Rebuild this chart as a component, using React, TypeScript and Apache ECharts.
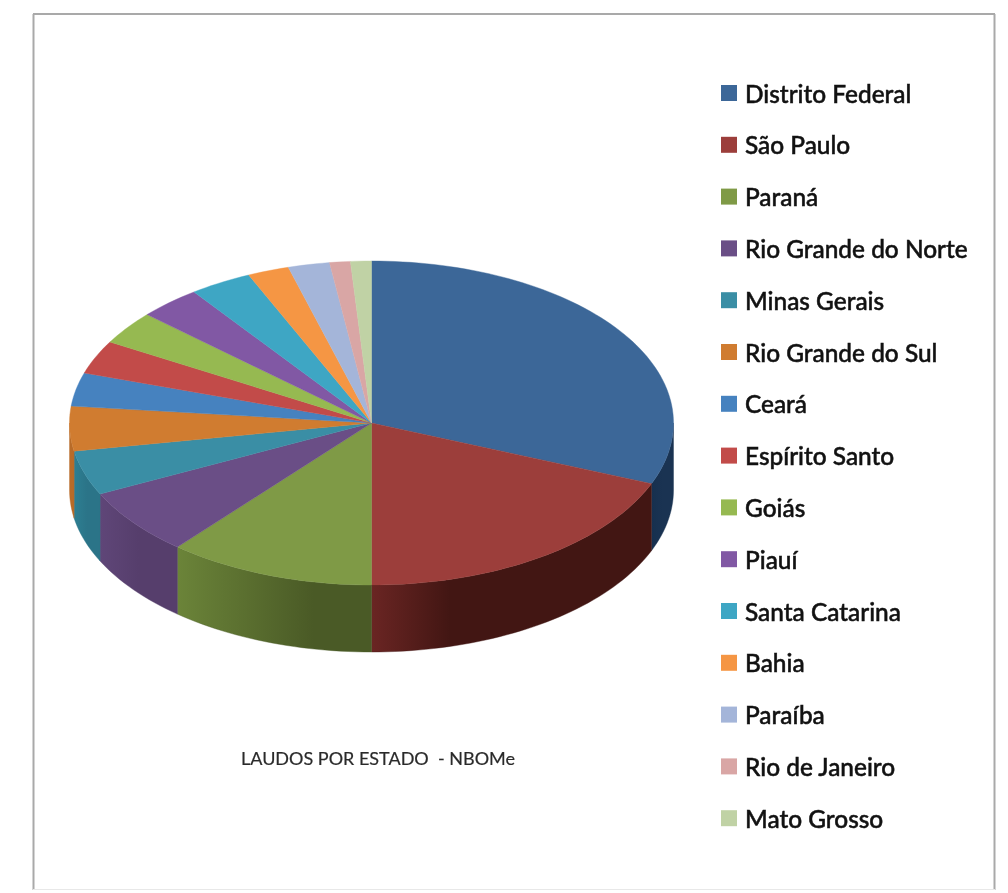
import React, { useEffect, useRef } from "react";
import * as echarts from "echarts";

const states = ["Distrito Federal", "São Paulo", "Paraná", "Rio Grande do Norte", "Minas Gerais", "Rio Grande do Sul", "Ceará", "Espírito Santo", "Goiás", "Piauí", "Santa Catarina", "Bahia", "Paraíba", "Rio de Janeiro", "Mato Grosso"];
const counts = [28, 17, 10, 6, 4, 4, 3, 3, 3, 3, 3, 2, 2, 1, 1];
const topColors = ["#3c6798", "#9c3e3b", "#7f9a46", "#6a4e86", "#3a8ea5", "#d07c30", "#4682bf", "#c24b49", "#96b951", "#8158a4", "#3ea6c4", "#f59644", "#a4b5d9", "#d9a6a5", "#c0d2a5"];
const wallLeft = ["#16304f", "#6a2523", "#6b8439", "#5f4678", "#2d7f92", "#b86b28"];
const wallRight = ["#1a3352", "#421613", "#4a5a26", "#563e6c", "#2b7488", "#b86b28"];
const wallTurn = [0.5, 0.28, 0.7, 0.5, 0.5, 0.5];

const CX = 371.5, CY = 423, RX = 302, RY = 162, DEPTH = 67;
const total = counts.reduce((a, b) => a + b, 0);

function rim(theta: number, dy = 0): number[] {
  return [CX + RX * Math.sin(theta), CY - RY * Math.cos(theta) + dy];
}

function arcPoints(a: number, b: number, dy = 0): number[][] {
  const steps = Math.max(2, Math.ceil(((b - a) / Math.PI) * 120));
  const out: number[][] = [];
  for (let i = 0; i <= steps; i++) out.push(rim(a + ((b - a) * i) / steps, dy));
  return out;
}

function sliceSeries(index: number) {
  const before = counts.slice(0, index).reduce((a, b) => a + b, 0);
  const start = (before / total) * 2 * Math.PI;
  const end = ((before + counts[index]) / total) * 2 * Math.PI;
  const color = topColors[index];
  return {
    type: "custom" as const,
    name: states[index],
    coordinateSystem: "none",
    itemStyle: { color },
    data: [[counts[index]]],
    silent: true,
    renderItem: () => {
      const children: any[] = [];
      const wa = Math.max(start, Math.PI / 2);
      const wb = Math.min(end, (3 * Math.PI) / 2);
      if (wb > wa) {
        const lower = arcPoints(wa, wb, DEPTH).reverse();
        const leftC = wallLeft[index] || color;
        const rightC = wallRight[index] || color;
        const fill = new echarts.graphic.LinearGradient(0, 0, 1, 0, [
          { offset: 0, color: leftC },
          { offset: wallTurn[index], color: rightC },
          { offset: 1, color: rightC },
        ]);
        children.push({
          type: "polygon",
          shape: { points: [...arcPoints(wa, wb), ...lower] },
          style: { fill, stroke: rightC, lineWidth: 0.4 },
        });
      }
      children.push({
        type: "polygon",
        shape: { points: [[CX, CY], ...arcPoints(start, end)] },
        style: { fill: color, stroke: color, lineWidth: 0.4 },
      });
      return { type: "group", children };
    },
  };
}

export default function App() {
  const ref = useRef<HTMLDivElement>(null);
  useEffect(() => {
    const chart = echarts.init(ref.current!, null, { renderer: "svg" });
    const frame = "#a9a9a9";
    chart.setOption({
      animation: false,
      backgroundColor: "#ffffff",
      title: {
        text: "LAUDOS POR ESTADO  - NBOMe",
        left: 241,
        top: 749,
        padding: 0,
        textStyle: { fontFamily: "Lato", fontSize: 18, fontWeight: 400, color: "#2a2a2a", textBorderColor: "#2a2a2a", textBorderWidth: 0.2 },
      },
      legend: {
        orient: "vertical",
        left: 721,
        top: 79,
        padding: 0,
        icon: "rect",
        itemWidth: 16,
        itemHeight: 16,
        itemGap: 23.8,
        selectedMode: false,
        data: states,
        textStyle: { fontFamily: "Lato", fontSize: 24.4, fontWeight: 500, color: "#111111", padding: [0, 0, 0, 3], height: 28, lineHeight: 28, textBorderColor: "#111111", textBorderWidth: 0.5 },
      },
      graphic: [
        { type: "line", shape: { x1: 33.5, y1: 14, x2: 33.5, y2: 890 }, style: { stroke: frame, lineWidth: 2 } },
        { type: "line", shape: { x1: 33, y1: 14, x2: 995, y2: 14 }, style: { stroke: frame, lineWidth: 2 } },
        { type: "line", shape: { x1: 994.5, y1: 14, x2: 994.5, y2: 890 }, style: { stroke: frame, lineWidth: 2 } },
        { type: "line", shape: { x1: 33, y1: 889.5, x2: 995, y2: 889.5 }, style: { stroke: "#e8e8e8", lineWidth: 1 } },
      ],
      series: states.map((_, i) => sliceSeries(i)),
    });
    return () => chart.dispose();
  }, []);
  return <div ref={ref} style={{ position: "absolute", left: 0, top: 0, width: 1008, height: 893, filter: "blur(0.4px)" }} />;
}
